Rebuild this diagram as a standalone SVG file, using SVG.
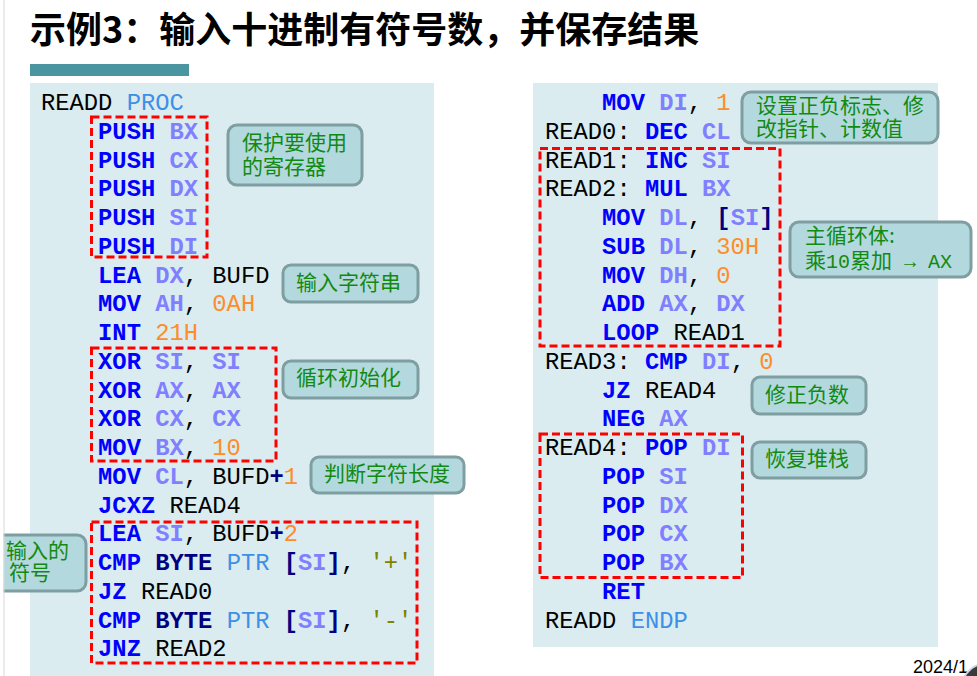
<svg xmlns="http://www.w3.org/2000/svg" width="977" height="676" viewBox="0 0 977 676">
<style>
.title{font-family:"Noto Sans CJK SC",sans-serif;font-size:36px;font-weight:bold;fill:#000}
.panel{fill:#daecef}
.code text{font-family:"Liberation Mono","DejaVu Sans Mono",monospace;font-size:23.8px;fill:#000;white-space:pre}
.k{fill:#0000ff;font-weight:bold}
.r{fill:#8080ff;font-weight:bold}
.n{fill:#ff8c2a}
.d{fill:#3d8fe8}
.t{fill:#000080;font-weight:bold}
.s{fill:#808000}
.box{fill:none;stroke:#ff0000;stroke-width:3;stroke-dasharray:8 4}
.cb{fill:#b3d9de;stroke:#7f9ea2;stroke-width:3}
.ct{font-family:"Noto Sans CJK SC",sans-serif;font-size:21px;fill:#128a12}
.cm{font-family:"Liberation Mono","DejaVu Sans Mono",monospace;font-size:20px;white-space:pre}
.date{font-family:"Liberation Sans",sans-serif;font-size:18px;fill:#000}
</style>
<rect width="977" height="676" fill="#fff"/>
<text class="title" x="30" y="43">示例3：输入十进制有符号数，并保存结果</text>
<rect x="30" y="64" width="159" height="12" fill="#4a959f"/>
<rect class="panel" x="30" y="83" width="404" height="593"/>
<rect class="panel" x="533" y="83" width="405" height="564"/>

<g id="code-left" class="code">
<text x="41" y="110">READD <tspan class="d">PROC</tspan></text>
<text x="98.1" y="138.75"><tspan class="k">PUSH</tspan> <tspan class="r">BX</tspan></text>
<text x="98.1" y="167.5"><tspan class="k">PUSH</tspan> <tspan class="r">CX</tspan></text>
<text x="98.1" y="196.25"><tspan class="k">PUSH</tspan> <tspan class="r">DX</tspan></text>
<text x="98.1" y="225"><tspan class="k">PUSH</tspan> <tspan class="r">SI</tspan></text>
<text x="98.1" y="253.75"><tspan class="k">PUSH</tspan> <tspan class="r">DI</tspan></text>
<text x="98.1" y="282.5"><tspan class="k">LEA</tspan> <tspan class="r">DX</tspan>, BUFD</text>
<text x="98.1" y="311.25"><tspan class="k">MOV</tspan> <tspan class="r">AH</tspan>, <tspan class="n">0AH</tspan></text>
<text x="98.1" y="340"><tspan class="k">INT</tspan> <tspan class="n">21H</tspan></text>
<text x="98.1" y="368.75"><tspan class="k">XOR</tspan> <tspan class="r">SI</tspan>, <tspan class="r">SI</tspan></text>
<text x="98.1" y="397.5"><tspan class="k">XOR</tspan> <tspan class="r">AX</tspan>, <tspan class="r">AX</tspan></text>
<text x="98.1" y="426.25"><tspan class="k">XOR</tspan> <tspan class="r">CX</tspan>, <tspan class="r">CX</tspan></text>
<text x="98.1" y="455"><tspan class="k">MOV</tspan> <tspan class="r">BX</tspan>, <tspan class="n">10</tspan></text>
<text x="98.1" y="483.75"><tspan class="k">MOV</tspan> <tspan class="r">CL</tspan>, BUFD<tspan class="t">+</tspan><tspan class="n">1</tspan></text>
<text x="98.1" y="512.5"><tspan class="k">JCXZ</tspan> READ4</text>
<text x="98.1" y="541.25"><tspan class="k">LEA</tspan> <tspan class="r">SI</tspan>, BUFD<tspan class="t">+</tspan><tspan class="n">2</tspan></text>
<text x="98.1" y="570"><tspan class="k">CMP</tspan> <tspan class="t">BYTE</tspan> <tspan class="d">PTR</tspan> <tspan class="t">[</tspan><tspan class="r">SI</tspan><tspan class="t">]</tspan>, <tspan class="s">'+'</tspan></text>
<text x="98.1" y="598.75"><tspan class="k">JZ</tspan> READ0</text>
<text x="98.1" y="627.5"><tspan class="k">CMP</tspan> <tspan class="t">BYTE</tspan> <tspan class="d">PTR</tspan> <tspan class="t">[</tspan><tspan class="r">SI</tspan><tspan class="t">]</tspan>, <tspan class="s">'-'</tspan></text>
<text x="98.1" y="656.25"><tspan class="k">JNZ</tspan> READ2</text>
</g>

<g id="code-right" class="code">
<text x="602.1" y="110"><tspan class="k">MOV</tspan> <tspan class="r">DI</tspan>, <tspan class="n">1</tspan></text>
<text x="545" y="138.75">READ0: <tspan class="k">DEC</tspan> <tspan class="r">CL</tspan></text>
<text x="545" y="167.5">READ1: <tspan class="k">INC</tspan> <tspan class="r">SI</tspan></text>
<text x="545" y="196.25">READ2: <tspan class="k">MUL</tspan> <tspan class="r">BX</tspan></text>
<text x="602.1" y="225"><tspan class="k">MOV</tspan> <tspan class="r">DL</tspan>, <tspan class="t">[</tspan><tspan class="r">SI</tspan><tspan class="t">]</tspan></text>
<text x="602.1" y="253.75"><tspan class="k">SUB</tspan> <tspan class="r">DL</tspan>, <tspan class="n">30H</tspan></text>
<text x="602.1" y="282.5"><tspan class="k">MOV</tspan> <tspan class="r">DH</tspan>, <tspan class="n">0</tspan></text>
<text x="602.1" y="311.25"><tspan class="k">ADD</tspan> <tspan class="r">AX</tspan>, <tspan class="r">DX</tspan></text>
<text x="602.1" y="340"><tspan class="k">LOOP</tspan> READ1</text>
<text x="545" y="368.75">READ3: <tspan class="k">CMP</tspan> <tspan class="r">DI</tspan>, <tspan class="n">0</tspan></text>
<text x="602.1" y="397.5"><tspan class="k">JZ</tspan> READ4</text>
<text x="602.1" y="426.25"><tspan class="k">NEG</tspan> <tspan class="r">AX</tspan></text>
<text x="545" y="455">READ4: <tspan class="k">POP</tspan> <tspan class="r">DI</tspan></text>
<text x="602.1" y="483.75"><tspan class="k">POP</tspan> <tspan class="r">SI</tspan></text>
<text x="602.1" y="512.5"><tspan class="k">POP</tspan> <tspan class="r">DX</tspan></text>
<text x="602.1" y="541.25"><tspan class="k">POP</tspan> <tspan class="r">CX</tspan></text>
<text x="602.1" y="570"><tspan class="k">POP</tspan> <tspan class="r">BX</tspan></text>
<text x="602.1" y="598.75"><tspan class="k">RET</tspan></text>
<text x="545" y="627.5">READD <tspan class="d">ENDP</tspan></text>
</g>

<g id="highlights">
<rect class="box" x="91.5" y="117" width="115.5" height="140"/>
<rect class="box" x="91.5" y="348" width="184.5" height="113"/>
<rect class="box" x="91.5" y="522" width="325.5" height="141"/>
<rect class="box" x="540" y="148.5" width="240" height="197.5"/>
<rect class="box" x="540" y="434" width="202.5" height="143.5"/>
</g>

<g id="note-save-regs"><rect class="cb" x="228" y="125" width="134" height="60" rx="9"/><text class="ct" x="242" y="150">保护要使用</text><text class="ct" x="242" y="174">的寄存器</text></g>
<g id="note-input-string"><rect class="cb" x="283" y="265" width="135" height="37" rx="8"/><text class="ct" x="296" y="290">输入字符串</text></g>
<g id="note-loop-init"><rect class="cb" x="283" y="361" width="135" height="37" rx="8"/><text class="ct" x="296" y="385">循环初始化</text></g>
<g id="note-length"><rect class="cb" x="311" y="457" width="153" height="36" rx="8"/><text class="ct" x="324" y="481">判断字符长度</text></g>
<g id="note-sign"><rect class="cb" x="-20" y="535" width="106" height="56" rx="9"/><text class="ct" x="6" y="558">输入的</text><text class="ct" x="9" y="580">符号</text></g>
<g id="note-set-flag"><rect class="cb" x="742" y="92" width="196" height="51" rx="9"/><text class="ct" x="756" y="113">设置正负标志、修</text><text class="ct" x="756" y="136">改指针、计数值</text></g>
<g id="note-main-loop"><rect class="cb" x="790" y="222" width="181" height="55" rx="9"/><text class="ct" x="805" y="243">主循环体:</text><text class="ct" x="805" y="268">乘<tspan class="cm">10</tspan>累加<tspan class="cm"> → AX</tspan></text></g>
<g id="note-negate"><rect class="cb" x="752" y="377" width="114" height="37" rx="8"/><text class="ct" x="765" y="402">修正负数</text></g>
<g id="note-restore"><rect class="cb" x="752" y="442" width="114" height="36" rx="8"/><text class="ct" x="765" y="466">恢复堆栈</text></g>

<rect x="0" y="0" width="3.5" height="676" fill="#fff"/>
<line x1="4" y1="0" x2="4" y2="676" stroke="#d8d8d8" stroke-width="1"/>
<text class="date" x="913" y="673">2024/1</text>
<circle cx="988" cy="690" r="27" fill="#3a3a3a" stroke="#c8d4e0" stroke-width="2"/>
</svg>
